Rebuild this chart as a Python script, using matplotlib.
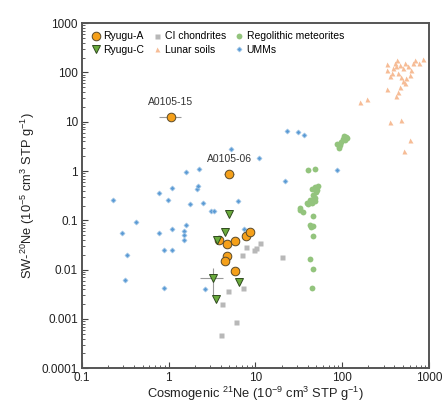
import math
import matplotlib
matplotlib.use("Agg")
import matplotlib.pyplot as plt
from matplotlib.ticker import LogLocator, NullFormatter, FuncFormatter

plt.rcParams['font.family'] = ['Liberation Sans', 'DejaVu Sans']
plt.rcParams['mathtext.default'] = 'regular'

# --- data ---
ryugu_a_x = [1.06, 4.99, 3.79, 4.69, 5.86, 4.65, 4.45, 5.86, 7.7, 8.65]
ryugu_a_y = [12.5, 0.87, 0.0396, 0.0339, 0.0384, 0.0188, 0.0151, 0.0093, 0.0492, 0.0584]
ryugu_a_xerr_lo = [0.28, 0.6, 0, 0, 0, 0, 0, 0, 0, 0]
ryugu_a_xerr_hi = [0.33, 0.7, 0, 0, 0, 0, 0, 0, 0, 0]

ryugu_c_x = [4.99, 4.49, 3.56, 3.21, 3.51, 6.46]
ryugu_c_y = [0.135, 0.0575, 0.0408, 0.0069, 0.0025, 0.0057]
ryugu_c_xerr_lo = [0, 0, 0, 0.92, 0, 0]
ryugu_c_xerr_hi = [0, 0, 0, 0.98, 0, 0]
ryugu_c_yerr_lo = [0, 0, 0, 0.0040, 0, 0]
ryugu_c_yerr_hi = [0, 0, 0, 0.0040, 0, 0]

ci_x = [11.3, 10.1, 9.6, 7.77, 6.93, 20.0, 7.24, 4.82, 4.07, 5.96, 3.97]
ci_y = [0.035, 0.0277, 0.0256, 0.029, 0.0203, 0.0182, 0.0043, 0.00367, 0.00197, 0.000864, 0.000464]

lunar_x = [160, 191, 355, 472, 604, 515, 331, 331, 355, 324, 405, 431, 463, 497, 529,
           578, 614, 647, 688, 773, 844, 443, 472, 497, 529, 463, 443, 417, 542, 380,
           374, 604, 417]
lunar_y = [25, 28.9, 9.7, 11, 4.2, 2.5, 150, 113, 83, 46, 155, 175, 143, 122, 155,
           132, 110, 155, 181, 155, 187, 97, 80, 66, 61, 51, 41, 33.6, 77, 122,
           97, 90, 132]

regolith_x = [88, 92, 95, 98, 101, 105, 110, 113, 107, 93,
              40.6, 48.5, 44.4, 48.5, 53, 46.4, 42.5, 38.9, 32.6, 32.6,
              35.6, 40.6, 44.4, 48.5, 45.6, 42.5, 46.4, 45.6, 42.5, 46.4,
              45, 50, 51, 47, 49, 43.5]
regolith_y = [3.6, 3.2, 3.4, 3.9, 4.5, 5.2, 5.0, 4.6, 4.2, 2.9,
              1.03, 1.10, 0.43, 0.47, 0.49, 0.33, 0.26, 0.23, 0.176, 0.165,
              0.146, 0.21, 0.23, 0.245, 0.121, 0.082, 0.078, 0.049, 0.0166, 0.0101,
              0.0043, 0.38, 0.42, 0.30, 0.28, 0.075]

umm_x = [0.226, 0.289, 0.33, 0.316, 0.416, 0.766, 0.77, 0.873, 0.873, 0.97,
         1.08, 1.08, 1.09, 1.58, 1.6, 1.74, 1.51, 1.48, 1.51, 2.25,
         2.1, 2.2, 2.5, 2.6, 3.1, 3.35, 5.26, 6.3, 11.0, 21.9,
         22.9, 31.2, 36.2, 87.8, 7.37]
umm_y = [0.264, 0.0557, 0.0194, 0.0061, 0.0946, 0.36, 0.0557, 0.0252, 0.0042, 0.26,
         0.448, 0.067, 0.0252, 0.94, 0.082, 0.219, 0.061, 0.0515, 0.0408, 1.10,
         0.428, 0.49, 0.222, 0.0041, 0.153, 0.153, 2.76, 0.244, 1.8, 0.62,
         6.5, 6.2, 5.47, 1.04, 0.067]

labels = ['A0105-15', 'A0105-06']


def log_label(v, pos):
    # plain decimal labels: 0.0001 ... 1000
    if v >= 1:
        return f'{v:g}'
    return f'{v:.{-int(round(math.log10(v)))}f}'


fig = plt.figure(figsize=(4.42, 4.09), dpi=100)
ax = fig.add_axes([0.1855, 0.0995, 0.785, 0.844])

# background groups
ax.plot(ci_x, ci_y, 's', ms=3.6, color='#b8b8b8', mec='none', label='CI chondrites', zorder=2)
ax.plot(lunar_x, lunar_y, '^', ms=3.6, color='#f6bc96', mec='none', label='Lunar soils', zorder=2)
ax.plot(regolith_x, regolith_y, 'o', ms=4.2, color='#93c47d', mec='none',
        label='Regolithic meteorites', zorder=2)
ax.plot(umm_x, umm_y, 'D', ms=2.6, color='#5b9bd5', mec='#a9cbe8', mew=0.5, label='UMMs', zorder=2)

# Ryugu samples with error bars
ax.errorbar(ryugu_a_x, ryugu_a_y, xerr=[ryugu_a_xerr_lo, ryugu_a_xerr_hi], fmt='none',
            ecolor='#9a9a9a', elinewidth=0.8, zorder=3)
ax.errorbar(ryugu_c_x, ryugu_c_y, xerr=[ryugu_c_xerr_lo, ryugu_c_xerr_hi],
            yerr=[ryugu_c_yerr_lo, ryugu_c_yerr_hi], fmt='none',
            ecolor='#9a9a9a', elinewidth=0.8, zorder=3)
ax.plot(ryugu_a_x, ryugu_a_y, 'o', ms=6.2, color='#f5a01a', mec='#5a4a2a', mew=0.7,
        label='Ryugu-A', zorder=4)
ax.plot(ryugu_c_x, ryugu_c_y, 'v', ms=6.4, color='#6aab3c', mec='#2f4a1f', mew=0.7,
        label='Ryugu-C', zorder=4)

for name, xv, yv in zip(labels, ryugu_a_x[:2], ryugu_a_y[:2]):
    ax.annotate(name, (xv, yv), xytext=(0, 7), textcoords='offset points',
                ha='center', va='bottom', fontsize=7.5, color='#333333')

ax.set_xscale('log')
ax.set_yscale('log')
ax.set_xlim(0.1, 1000)
ax.set_ylim(0.0001, 1000)

ax.xaxis.set_major_formatter(FuncFormatter(log_label))
ax.yaxis.set_major_formatter(FuncFormatter(log_label))
ax.xaxis.set_major_locator(LogLocator(base=10, numticks=10))
ax.yaxis.set_major_locator(LogLocator(base=10, numticks=10))
ax.xaxis.set_minor_locator(LogLocator(base=10, subs=range(2, 10), numticks=20))
ax.yaxis.set_minor_locator(LogLocator(base=10, subs=range(2, 10), numticks=20))
ax.xaxis.set_minor_formatter(NullFormatter())
ax.yaxis.set_minor_formatter(NullFormatter())
ax.tick_params(which='both', direction='in', colors='#444444', labelcolor='#222222', labelsize=8.5)
ax.tick_params(which='major', length=4, width=0.8, pad=3)
ax.tick_params(which='minor', length=2, width=0.6)

for s in ax.spines.values():
    s.set_color('#555555')
    s.set_linewidth(1.4)

ax.set_xlabel('Cosmogenic $^{21}$Ne (10$^{-9}$ cm$^{3}$ STP g$^{-1}$)', fontsize=9.3,
              color='#222222', labelpad=0.5)
ax.set_ylabel('SW-$^{20}$Ne (10$^{-5}$ cm$^{3}$ STP g$^{-1}$)', fontsize=9.3,
              color='#222222', labelpad=3)

handles, labs = ax.get_legend_handles_labels()
order = ['Ryugu-A', 'Ryugu-C', 'CI chondrites', 'Lunar soils', 'Regolithic meteorites', 'UMMs']
hmap = dict(zip(labs, handles))
ax.legend([hmap[k] for k in order], order, ncol=3, loc='upper left', frameon=False,
          fontsize=7.5, handletextpad=0.2, columnspacing=0.8, labelspacing=0.3,
          borderaxespad=0.4, handlelength=1.0)

fig.savefig('out.png', dpi=100)
